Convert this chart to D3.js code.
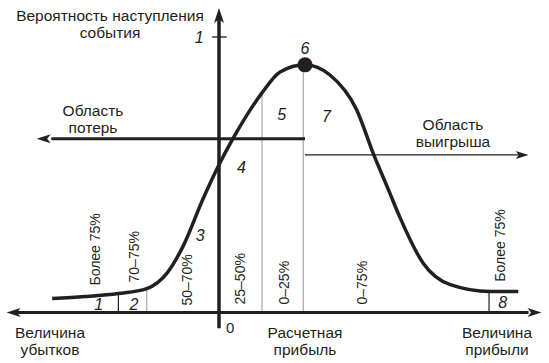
<!DOCTYPE html>
<html>
<head>
<meta charset="utf-8">
<script src="https://cdn.jsdelivr.net/npm/d3@7"></script>
<style>
  body { margin: 0; background: #fff; }
  text { font-family: "Liberation Sans", Arial, sans-serif; fill: #231f20; }
</style>
</head>
<body>
<div id="chart"></div>
<script>
// profit value (0 = no profit, 1 = estimated profit) and probability of the event
var curveX = [-1.94, -1.56, -1.17, -0.84, -0.6, -0.42, -0.19, 0, 0.16, 0.5, 0.71, 1, 1.29, 1.6, 1.8, 1.97, 2.1, 2.37, 2.69, 3.15, 3.48]
var curveP = [0.051, 0.058, 0.069, 0.087, 0.145, 0.239, 0.409, 0.536, 0.63, 0.797, 0.873, 0.899, 0.862, 0.736, 0.572, 0.446, 0.348, 0.181, 0.101, 0.076, 0.076]

// zone borders under the curve
var borderX = [-1.17, -0.84, 0.5, 0.98, 3.14]
var borderP = [0.069, 0.087, 0.797, 0.899, 0.076]
var borderGray = [false, true, true, true, false]

// zone numbers (baseline level)
var zoneNames = ["1", "2", "3", "4", "5", "6", "7", "8"]
var zoneX = [-1.4, -0.99, -0.22, 0.26, 0.73, 1, 1.25, 3.3]
var zoneP = [0.01, 0.01, 0.26, 0.505, 0.7, 0.938, 0.69, 0.016]

// risk levels (vertical labels)
var riskNames = ["Более 75%", "70–75%", "50–70%", "25–50%", "0–25%", "0–75%", "Более 75%"]
var riskX = [-1.38, -0.93, -0.31, 0.3, 0.81, 1.72, 3.33]
var riskP = [0.098, 0.109, 0.025, 0.029, 0.029, 0.029, 0.112]

var lossLevel = 0.631   // "Область потерь" arrow
var gainLevel = 0.572   // "Область выигрыша" arrow

var W = 549, H = 363

var x = d3.scaleLinear().domain([0, 1]).range([219, 305])
var y = d3.scaleLinear().domain([0, 1]).range([312.5, 37])

var svg = d3.select("#chart").append("svg")
  .attr("width", W).attr("height", H)

var ink = "#231f20"

// arrow head pointing along (dx, dy) with tip at (tx, ty)
function head(tx, ty, dx, dy, len, half) {
  var nx = -dy, ny = dx
  var bx = tx - dx * len, by = ty - dy * len
  var mx = tx - dx * len * 0.75, my = ty - dy * len * 0.75
  var p = [[tx, ty], [bx + nx * half, by + ny * half], [mx, my], [bx - nx * half, by - ny * half]]
  svg.append("path")
    .attr("d", "M" + p.map(function(d){return d.join(",")}).join("L") + "Z")
    .attr("fill", ink)
}

// zone borders
svg.append("g").selectAll("line")
  .data(borderX)
  .enter()
  .append("line")
  .attr("x1", function(d){return x(d)})
  .attr("x2", function(d){return x(d)})
  .attr("y1", y(0))
  .attr("y2", function(d, i){return y(borderP[i])})
  .attr("stroke", function(d, i){return borderGray[i] ? "#a7a9ab" : ink})
  .attr("stroke-width", 1.2)

// horizontal axis
svg.append("line")
  .attr("x1", x(-2.42)).attr("x2", x(3.6))
  .attr("y1", y(0)).attr("y2", y(0))
  .attr("stroke", ink).attr("stroke-width", 3)
head(x(-2.47), y(0), -1, 0, 14, 4.5)
head(x(3.75), y(0), 1, 0, 14, 4.5)

// vertical axis
svg.append("line")
  .attr("x1", x(0)).attr("x2", x(0))
  .attr("y1", y(-0.057)).attr("y2", y(1.07))
  .attr("stroke", ink).attr("stroke-width", 3.5)
head(x(0), y(1.105), 0, -1, 15, 5)

// tick 1
svg.append("line")
  .attr("x1", x(-0.08)).attr("x2", x(0.09))
  .attr("y1", y(1)).attr("y2", y(1))
  .attr("stroke", ink).attr("stroke-width", 1.3)
svg.append("text")
  .attr("x", x(-0.23)).attr("y", y(1) + 6)
  .attr("text-anchor", "middle")
  .style("font-size", "16px").style("font-style", "italic")
  .text("1")

// loss area arrow
svg.append("line")
  .attr("x1", x(1)).attr("x2", x(-1.95))
  .attr("y1", y(lossLevel)).attr("y2", y(lossLevel))
  .attr("stroke", ink).attr("stroke-width", 3)
head(x(-2.12), y(lossLevel), -1, 0, 14, 4.5)

// gain area arrow
svg.append("line")
  .attr("x1", x(1)).attr("x2", x(3.5))
  .attr("y1", y(gainLevel)).attr("y2", y(gainLevel))
  .attr("stroke", ink).attr("stroke-width", 1.3)
head(x(3.6), y(gainLevel), 1, 0, 13, 4)

// probability curve
var pts = curveX.map(function(d, i){return [d, curveP[i]]})
svg.append("path")
  .datum(pts)
  .attr("d", d3.line()
    .x(function(d){return x(d[0])})
    .y(function(d){return y(d[1])})
    .curve(d3.curveMonotoneX)
  )
  .attr("fill", "none")
  .attr("stroke", ink)
  .attr("stroke-width", 3.5)

// peak point
svg.append("circle")
  .attr("cx", x(1)).attr("cy", y(0.899))
  .attr("r", 7.5)
  .attr("fill", ink)

// zone numbers
svg.append("g").selectAll("text")
  .data(zoneNames)
  .enter()
  .append("text")
  .attr("x", function(d, i){return x(zoneX[i])})
  .attr("y", function(d, i){return y(zoneP[i])})
  .attr("text-anchor", "middle")
  .style("font-size", "16px").style("font-style", "italic")
  .text(function(d){return d})

// risk labels
svg.append("g").selectAll("text")
  .data(riskNames)
  .enter()
  .append("text")
  .attr("transform", function(d, i){
    return "translate(" + x(riskX[i]) + "," + y(riskP[i]) + ") rotate(-90)"})
  .style("font-size", "14px")
  .text(function(d){return d})

// plain texts
function label(lines, cx, cy) {
  var t = svg.append("text")
    .attr("text-anchor", "middle")
    .style("font-size", "15.5px")
  lines.forEach(function(s, i){
    t.append("tspan").attr("x", cx).attr("y", cy + i * 17).text(s)
  })
}
label(["Вероятность наступления", "события"], 110, 21)
label(["Область", "потерь"], 93, 116)
label(["Область", "выигрыша"], 453, 130)
label(["Величина", "убытков"], 50, 338)
label(["Расчетная", "прибыль"], 305, 338)
label(["Величина", "прибыли"], 497, 338)

svg.append("text")
  .attr("x", x(0.13)).attr("y", y(0) + 20)
  .attr("text-anchor", "middle")
  .style("font-size", "15px")
  .text("0")
</script>
</body>
</html>
